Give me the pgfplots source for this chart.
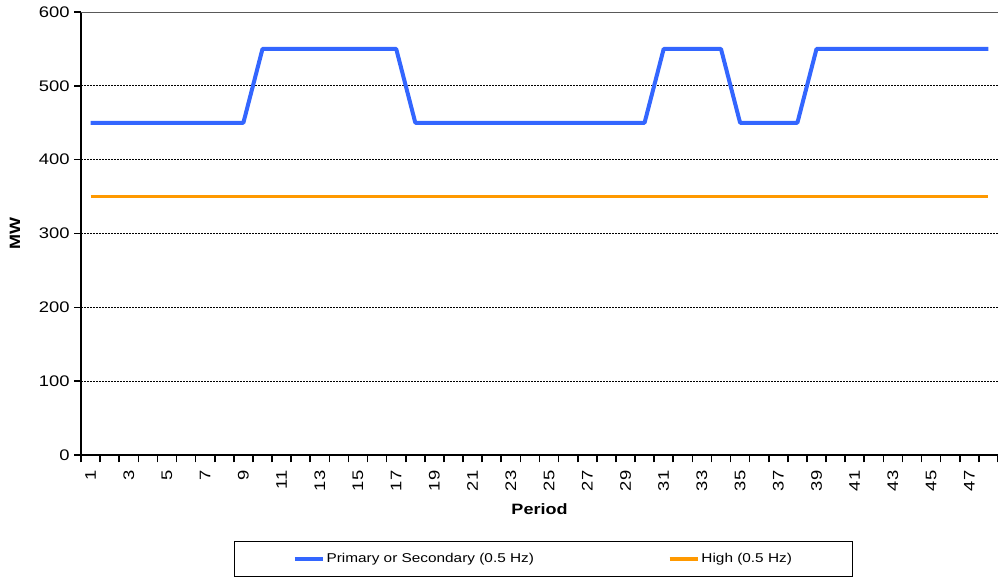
\documentclass[border=0pt]{standalone}
\usepackage{pgfplots}
\pgfplotsset{compat=1.18}
\usepackage{fontspec}
\setmainfont[FakeStretch=1.2]{Liberation Sans}
\definecolor{cblue}{HTML}{3366FF}
\definecolor{corange}{HTML}{FF9900}
\begin{document}
\begin{tikzpicture}
\begin{axis}[
  scale only axis,
  width=687.75pt, height=332.25pt,
  xmin=0.5, xmax=48.5, ymin=0, ymax=600,
  axis x line*=bottom, axis y line*=left,
  axis line style={black, line width=1.5pt, -},
  xtick={1,3,...,47},
  major x tick style={draw=none},
  minor xtick={0.5,1.5,...,48.5},
  minor x tick style={black, line width=1.2pt},
  minor tick length=5.5pt,
  ytick={0,100,...,600},
  y tick style={black, line width=1.2pt},
  major tick length=5pt,
  tick align=outside,
  extra y ticks={100,200,...,500},
  extra y tick labels={},
  extra y tick style={grid=major, major tick length=0pt},
  major grid style={black, line width=0.8pt, dash pattern=on 1.5pt off 0.75pt},
  xticklabel style={rotate=90, anchor=east, font=\fontsize{11.5}{13}\selectfont, inner xsep=6.5pt, inner ysep=0pt},
  yticklabel style={font=\fontsize{11.5}{13}\selectfont},
  /pgf/number format/assume math mode=true,
  xlabel={\textbf{Period}},
  ylabel={\textbf{MW}},
  xlabel style={at={(axis description cs:0.5,-0.122)}, anchor=center, font=\fontsize{11.25}{13}\selectfont},
  ylabel style={at={(axis description cs:-0.072,0.5)}, anchor=center, font=\fontsize{11.25}{13}\selectfont},
  legend columns=2,
  legend style={at={(axis description cs:0.5044,-0.1941)}, anchor=north,
    draw=black, line width=0.8pt, inner xsep=44pt, inner ysep=7pt,
    font=\fontsize{9.6}{11}\selectfont,
    /tikz/every even column/.append style={column sep=99pt},
    nodes={inner xsep=1.5pt}},
  legend image code/.code={\draw[#1, line width=2.6pt] (0pt,0pt) -- (21pt,0pt);},
  legend cell align=left,
]
\draw[gray!70!black, line width=1pt] (axis cs:0.5,600) -- (axis cs:48.5,600);
\addplot[cblue, line width=3pt, line join=round] table[x=p, y=v] {
p v
1 450
2 450
3 450
4 450
5 450
6 450
7 450
8 450
9 450
10 550
11 550
12 550
13 550
14 550
15 550
16 550
17 550
18 450
19 450
20 450
21 450
22 450
23 450
24 450
25 450
26 450
27 450
28 450
29 450
30 450
31 550
32 550
33 550
34 550
35 450
36 450
37 450
38 450
39 550
40 550
41 550
42 550
43 550
44 550
45 550
46 550
47 550
48 550
};
\addlegendentry{Primary or Secondary (0.5 Hz)}
\addplot[corange, line width=2.6pt] table[x=p, y=v] {
p v
1 350
2 350
3 350
4 350
5 350
6 350
7 350
8 350
9 350
10 350
11 350
12 350
13 350
14 350
15 350
16 350
17 350
18 350
19 350
20 350
21 350
22 350
23 350
24 350
25 350
26 350
27 350
28 350
29 350
30 350
31 350
32 350
33 350
34 350
35 350
36 350
37 350
38 350
39 350
40 350
41 350
42 350
43 350
44 350
45 350
46 350
47 350
48 350
};
\addlegendentry{High (0.5 Hz)}
\end{axis}
\pgfresetboundingbox
\path[use as bounding box] (-60.75pt,-90.75pt) rectangle (687.75pt,341.25pt);
\end{tikzpicture}
\end{document}
